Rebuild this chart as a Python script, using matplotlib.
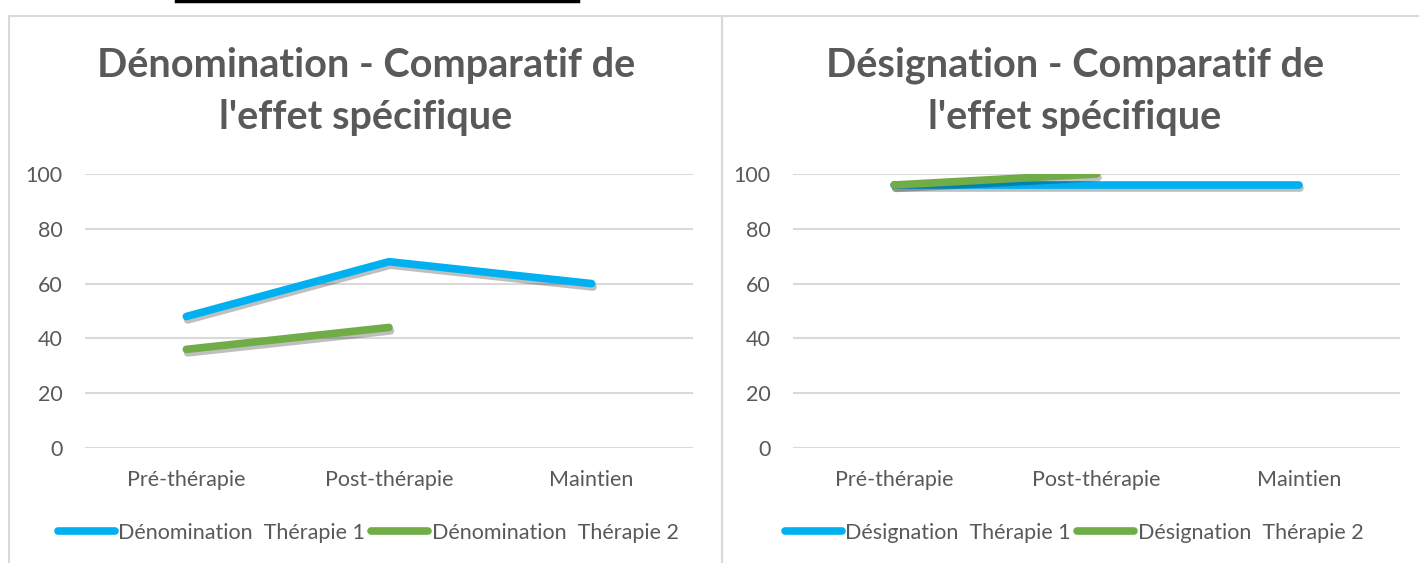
import matplotlib.pyplot as plt
import matplotlib.patheffects as pe
from matplotlib.lines import Line2D

plt.rcParams['font.family'] = ['Lato', 'DejaVu Sans']

# Données
categories = ['Pré-thérapie', 'Post-thérapie', 'Maintien']
denom_t1 = [48, 68, 60]
denom_t2 = [36, 44]
desig_t1 = [96, 96, 96]
desig_t2 = [96, 100]

titles = ["Dénomination - Comparatif de\nl'effet spécifique",
          "Désignation - Comparatif de\nl'effet spécifique"]
labels = [("Dénomination  Thérapie 1", "Dénomination  Thérapie 2"),
          ("Désignation  Thérapie 1", "Désignation  Thérapie 2")]
series = [(denom_t1, denom_t2), (desig_t1, desig_t2)]

BLUE = '#00B0F0'
GREEN = '#70AD47'
GREY_TXT = '#595959'
GRID = '#D9D9D9'

W, H = 1419, 563
fig = plt.figure(figsize=(W / 100, H / 100), dpi=100)

def fx(px):
    return px / W

def fy(py):
    return 1 - py / H

# cadres des graphiques
for x0, x1 in [(9, 722), (722, W + 5)]:
    fig.add_artist(Line2D([fx(x0), fx(x0), fx(x1), fx(x1)],
                          [fy(H + 5), fy(16), fy(16), fy(H + 5)],
                          color=GRID, lw=1.5))
# trait noir en haut
fig.add_artist(Line2D([fx(176), fx(578)], [fy(1), fy(1)], color='black', lw=2.5))

shadow = [pe.SimpleLineShadow(offset=(1, -2.5), shadow_color='black', alpha=0.25),
          pe.Normal()]

panels = [(85, 693, 366), (793, 1400, 1075)]
legend_x = [368, 1074]

for i, (left, right, tcx) in enumerate(panels):
    ax = fig.add_axes([fx(left), fy(448), fx(right - left), (448 - 174) / H])
    s1, s2 = series[i]
    l1, = ax.plot(range(len(s1)), s1, color=BLUE, lw=5.5, solid_capstyle='round',
                  path_effects=shadow, label=labels[i][0], zorder=3)
    l2, = ax.plot(range(len(s2)), s2, color=GREEN, lw=5.5, solid_capstyle='round',
                  path_effects=shadow, label=labels[i][1], zorder=4)
    ax.set_xlim(-0.5, 2.5)
    ax.set_ylim(0, 100)
    ax.set_yticks(range(0, 101, 20))
    ax.set_xticks(range(3))
    ax.set_xticklabels(categories)
    ax.grid(axis='y', color=GRID, lw=1.5)
    ax.set_axisbelow(True)
    for sp in ax.spines.values():
        sp.set_visible(False)
    ax.tick_params(length=0, labelcolor=GREY_TXT)
    ax.tick_params(axis='y', pad=16, labelsize=15.5)
    ax.tick_params(axis='x', pad=16, labelsize=15.5)
    ax.patch.set_alpha(0)

    fig.text(fx(tcx), fy(91), titles[i], ha='center', va='center', fontsize=28.5,
             fontweight='bold', color=GREY_TXT, linespacing=1.5)

    leg = fig.legend(handles=[l1, l2], loc='center', bbox_to_anchor=(fx(legend_x[i]), fy(533)),
                     ncol=2, frameon=False, fontsize=15.5, handlelength=2.65,
                     handletextpad=0.15, columnspacing=0.3, labelcolor=GREY_TXT)
    for h in leg.legend_handles:
        h.set_path_effects([])

fig.savefig('out.png', dpi=100)
